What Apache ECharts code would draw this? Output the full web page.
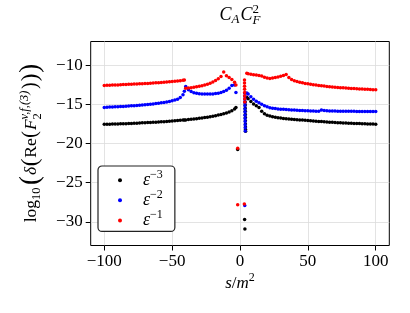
<!DOCTYPE html>
<html><head><meta charset="utf-8">
<script src="https://cdn.jsdelivr.net/npm/echarts@6/dist/echarts.min.js"></script>
<style>html,body{margin:0;padding:0;background:#fff}#c{width:410px;height:313px}</style>
</head><body><div id="c"></div>
<script>
// ---- tick labels ----
const xTicks = [-100, -50, 0, 50, 100];
const yTicks = [-30, -25, -20, -15, -10];
const seriesNames = ['e3', 'e2', 'e1'];
const legendSup = { e3: '−3', e2: '−2', e1: '−1' };
const colors = { e3: '#000000', e2: '#0000ff', e1: '#ff0000' };

// ---- shared s/m^2 samples ----
const xsLeft = [-100,-98,-96,-94,-92,-90,-88,-86,-84,-82,-80,-78,-76,-74,-72,-70,-68,-66,-64,-62,-60,-58,-56,-54,-52,-50,-48,-46,-44,-42,-41,-40,-38,-36,-34,-32,-30,-28,-26,-24,-22,-20,-18,-16,-14,-12,-10,-8,-6,-4,-3];
const xsRight = [5,6,8,10,12,14,16,18,20,22,24,26,28,30,32,34,36,38,40,42,44,46,48,50,52,54,56,58,60,62,64,66,68,70,72,74,76,78,80,82,84,86,88,90,92,94,96,98,100];

// ---- eps^-3 (black) ----
const blackLeft = [-17.55,-17.55,-17.54,-17.53,-17.52,-17.5,-17.49,-17.48,-17.47,-17.45,-17.44,-17.42,-17.41,-17.39,-17.37,-17.35,-17.33,-17.31,-17.3,-17.28,-17.26,-17.24,-17.22,-17.19,-17.17,-17.14,-17.11,-17.08,-17.05,-17.02,-17.0,-16.99,-16.95,-16.91,-16.87,-16.83,-16.79,-16.74,-16.69,-16.64,-16.58,-16.52,-16.45,-16.38,-16.3,-16.21,-16.1,-15.97,-15.82,-15.6,-15.4];
const blackMidX = [3.8,3.83,3.86,3.89,3.92,3.95,3.98,4.01,4.04,4.07,4.1];
const blackMidY = [-14.7,-15.1,-15.5,-15.9,-16.3,-16.7,-17.1,-17.5,-17.9,-18.2,-18.45];
const blackRight = [-14.1,-14.3,-14.65,-14.95,-15.2,-15.4,-15.9,-16.2,-16.4,-16.5,-16.58,-16.65,-16.71,-16.76,-16.8,-16.84,-16.87,-16.9,-16.93,-16.96,-16.99,-17.02,-17.05,-17.08,-17.11,-17.14,-17.16,-17.19,-17.21,-17.24,-17.26,-17.28,-17.3,-17.32,-17.34,-17.36,-17.38,-17.39,-17.41,-17.42,-17.44,-17.45,-17.46,-17.48,-17.49,-17.5,-17.51,-17.52,-17.54];
const blackOutX = [-1.7, 3.4, 3.6];
const blackOutY = [-20.75, -29.7, -30.9];

// ---- eps^-2 (blue) ----
const blueLeft = [-15.4,-15.38,-15.36,-15.35,-15.33,-15.31,-15.29,-15.27,-15.25,-15.22,-15.2,-15.18,-15.15,-15.12,-15.09,-15.06,-15.03,-14.99,-14.95,-14.91,-14.87,-14.82,-14.77,-14.71,-14.64,-14.56,-14.47,-14.35,-14.15,-13.8,-13.35,-12.75,-13.15,-13.38,-13.52,-13.6,-13.65,-13.68,-13.7,-13.7,-13.7,-13.68,-13.64,-13.58,-13.5,-13.38,-13.2,-12.95,-12.6,-12.55,-13.5];
const blueMidX = [3.5,3.53,3.56,3.59,3.62,3.65,3.68,3.71,3.74,3.77,3.8,3.83,3.86];
const blueMidY = [-13.6,-14.0,-14.4,-14.8,-15.2,-15.6,-16.0,-16.4,-16.8,-17.2,-17.6,-18.0,-18.4];
const blueRight = [-13.55,-13.7,-14.05,-14.35,-14.6,-14.8,-15.0,-15.18,-15.32,-15.45,-15.5,-15.55,-15.59,-15.62,-15.65,-15.68,-15.7,-15.72,-15.74,-15.76,-15.78,-15.8,-15.82,-15.84,-15.85,-15.87,-15.88,-15.9,-15.72,-15.8,-15.83,-15.85,-15.86,-15.87,-15.88,-15.88,-15.89,-15.89,-15.9,-15.9,-15.9,-15.91,-15.91,-15.91,-15.92,-15.92,-15.92,-15.93,-15.93];
const blueOutX = [3.5];
const blueOutY = [-27.9];

// ---- eps^-1 (red) ----
const redLeft = [-12.6,-12.59,-12.57,-12.56,-12.54,-12.53,-12.51,-12.49,-12.48,-12.46,-12.45,-12.43,-12.41,-12.4,-12.38,-12.36,-12.34,-12.32,-12.3,-12.27,-12.25,-12.22,-12.2,-12.17,-12.14,-12.11,-12.08,-12.04,-12.0,-11.95,-11.92,-12.97,-12.93,-12.89,-12.84,-12.78,-12.71,-12.63,-12.54,-12.44,-12.32,-12.17,-11.98,-11.75,-11.45,-10.9,-11.35,-11.6,-11.85,-12.2,-12.55];
const redMidX = [3.3,3.33,3.36,3.39,3.42,3.45,3.48,3.51];
const redMidY = [-11.9,-12.3,-12.7,-13.1,-13.5,-13.9,-14.3,-14.7];
const redRight = [-11.05,-11.1,-11.18,-11.24,-11.28,-11.32,-11.4,-11.55,-11.65,-11.7,-11.66,-11.6,-11.52,-11.43,-11.33,-11.22,-11.6,-11.85,-12.0,-12.1,-12.19,-12.27,-12.34,-12.4,-12.46,-12.51,-12.56,-12.6,-12.64,-12.68,-12.72,-12.76,-12.79,-12.82,-12.85,-12.88,-12.91,-12.93,-12.96,-12.98,-13.0,-13.02,-13.04,-13.06,-13.08,-13.1,-13.12,-13.14,-13.16];
const redOutX = [-1.7, -1.7, 3.2];
const redOutY = [-20.6, -27.8, -27.7];

function pairs(xs, ys) { return xs.map((x, i) => [x, ys[i]]); }
const dataBy = {
  e3: [].concat(pairs(xsLeft, blackLeft), pairs(blackMidX, blackMidY), pairs(xsRight, blackRight), pairs(blackOutX, blackOutY)),
  e2: [].concat(pairs(xsLeft, blueLeft), pairs(blueMidX, blueMidY), pairs(xsRight, blueRight), pairs(blueOutX, blueOutY)),
  e1: [].concat(pairs(xsLeft, redLeft), pairs(redMidX, redMidY), pairs(xsRight, redRight), pairs(redOutX, redOutY))
};

// ---- math-like text helper ----
const SERIF = '"Liberation Serif", "DejaVu Serif", serif';
const mctx = document.createElement('canvas').getContext('2d');
function fontOf(p) { return (p.it ? 'italic ' : '') + p.size + 'px ' + SERIF; }
function mathEls(pieces) {
  let x = 0, els = [], stack = null;
  pieces.forEach(p => {
    mctx.font = fontOf(p);
    const w = mctx.measureText(p.t).width;
    x += (p.pre || 0);
    els.push({ type: 'text', x: x, y: (p.dy || 0) - 0.34 * p.size,
      style: { text: p.t, font: fontOf(p), fill: '#000', align: 'left', verticalAlign: 'middle' } });
    if (p.stack) { stack = w; }
    else if (stack !== null) { x += Math.max(stack, w); stack = null; }
    else { x += w; }
    x += (p.post || 0);
  });
  els.forEach(e => { e.x -= x / 2; });
  return els;
}
function paren(t, S, base, pre, post) { return { t: t, size: S, dy: -0.25 * base + 0.26 * S, pre: pre || 0, post: post || 0 }; }

const titleEls = mathEls([
  { t: 'C', size: 18, it: true },
  { t: 'A', size: 13, it: true, dy: 3 },
  { t: 'C', size: 18, it: true, pre: 1 },
  { t: '2', size: 13, dy: -7, stack: true },
  { t: 'F', size: 13, it: true, dy: 4 }
]);
const xLabelEls = mathEls([
  { t: 's', size: 17, it: true },
  { t: '/', size: 17 },
  { t: 'm', size: 17, it: true },
  { t: '2', size: 12, dy: -7 }
]);
const B = 17.5;
const yLabelEls = mathEls([
  { t: 'log', size: B },
  { t: '10', size: 12.5, dy: 4 },
  paren('(', 27, B, 2.5, 1),
  { t: 'δ', size: B, it: true },
  paren('(', 23, B, 0.5, 1),
  { t: 'Re', size: B },
  paren('(', 20, B, 0.5, 1),
  { t: 'F', size: B, it: true },
  { t: 'v,f,(3)', size: 12.5, it: true, dy: -8.5, stack: true },
  { t: '2', size: 12.5, dy: 4.5 },
  paren(')', 20, B, 1.5, 0.5),
  paren(')', 23, B, 0.5, 0.5),
  paren(')', 27, B, 0.5, 0)
]);

const fmt = v => (xTicks.indexOf(v) >= 0 || yTicks.indexOf(v) >= 0) ? String(v).replace('-', '\u2212') : '';
const axisFont = { fontFamily: SERIF, fontSize: 17, color: '#000' };

const chart = echarts.init(document.getElementById('c'), null, { renderer: 'canvas' });
chart.setOption({
  animation: false,
  backgroundColor: '#fff',
  grid: { left: 90.7, right: 20.7, top: 41.5, bottom: 67.5, show: true, borderColor: '#000', borderWidth: 1, backgroundColor: 'transparent' },
  xAxis: {
    type: 'value', min: -110, max: 110,
    axisLine: { show: false, onZero: false },
    axisTick: { show: true, length: 5, lineStyle: { color: '#000', width: 1 }, customValues: xTicks },
    axisLabel: Object.assign({ customValues: xTicks, formatter: fmt, margin: 8 }, axisFont),
    splitLine: { show: true, lineStyle: { color: '#dcdcdc', width: 0.8 } }
  },
  yAxis: {
    type: 'value', min: -33, max: -7,
    axisLine: { show: false, onZero: false },
    axisTick: { show: true, length: 5, lineStyle: { color: '#000', width: 1 }, customValues: yTicks },
    axisLabel: Object.assign({ customValues: yTicks, formatter: fmt, margin: 8 }, axisFont),
    splitLine: { show: true, lineStyle: { color: '#dcdcdc', width: 0.8 } }
  },
  legend: {
    left: 98, top: 166, orient: 'vertical', icon: 'circle',
    itemWidth: 4, itemHeight: 4, itemGap: 0, padding: [3, 12, 2, 20],
    borderColor: '#222', borderWidth: 1.2, borderRadius: 4, backgroundColor: '#fff',
    selectedMode: false, data: seriesNames,
    formatter: n => '{e|ε}{s|' + legendSup[n] + '}',
    textStyle: { rich: {
      e: { fontFamily: SERIF, fontStyle: 'italic', fontSize: 18, lineHeight: 22.3, verticalAlign: 'middle', color: '#000', padding: [0, 0, 0, 16] },
      s: { fontFamily: SERIF, fontSize: 12, lineHeight: 11, verticalAlign: 'top', color: '#000' }
    } }
  },
  graphic: [
    { type: 'group', x: 240, y: 21, children: titleEls },
    { type: 'group', x: 240, y: 289, children: xLabelEls },
    { type: 'group', x: 37, y: 143, rotation: Math.PI / 2, children: yLabelEls }
  ],
  series: seriesNames.map(n => ({
    name: n, type: 'scatter', symbol: 'circle', symbolSize: 3.5,
    itemStyle: { color: colors[n], opacity: 1 }, data: dataBy[n]
  }))
});
</script>
</body></html>
